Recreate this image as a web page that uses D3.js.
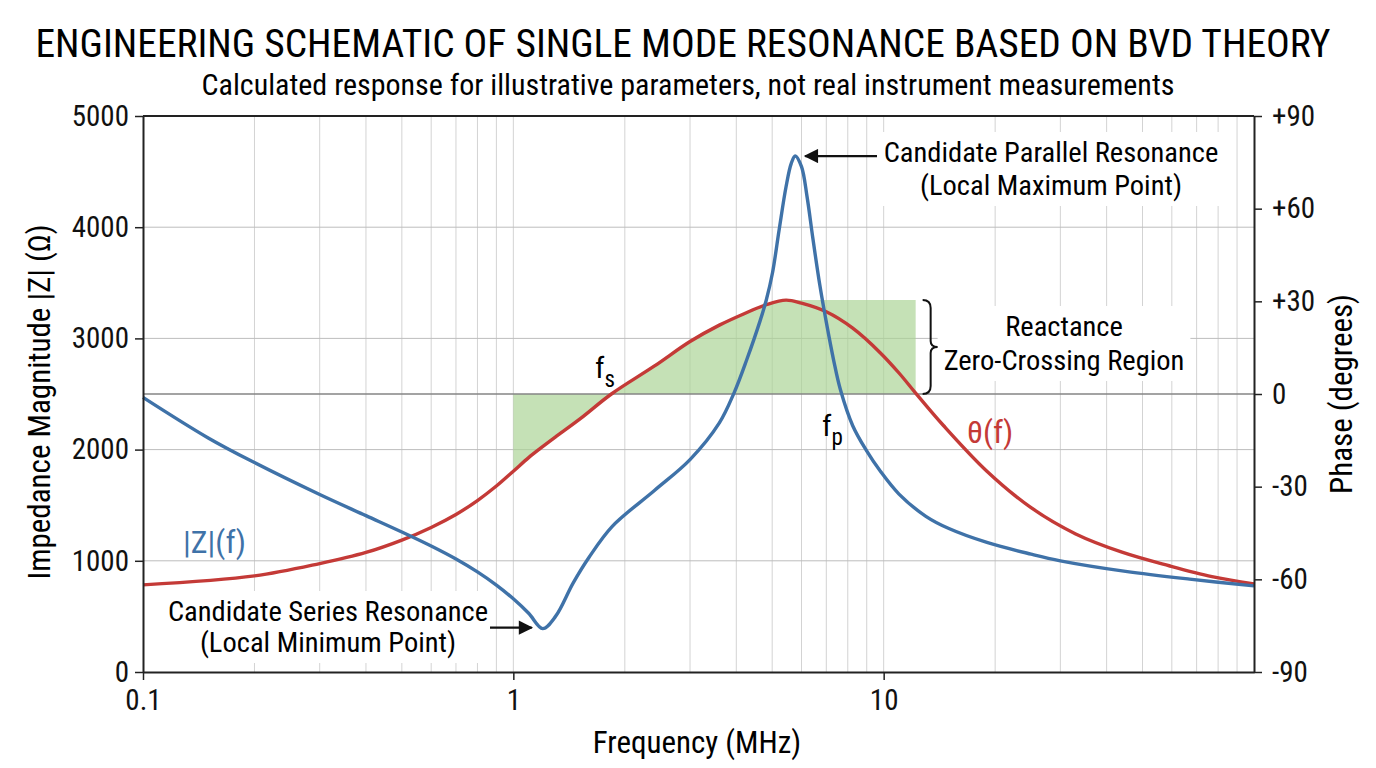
<!DOCTYPE html>
<html>
<head>
<meta charset="utf-8">
<script src="https://cdn.jsdelivr.net/npm/d3@7"></script>
<style>
  body { margin: 0; background: #fff; }
  text { font-family: "Liberation Sans Narrow", "Roboto Condensed", "DejaVu Sans Condensed", sans-serif; }
</style>
</head>
<body>
<div id="chart"></div>
<script>
// |Z|(f)
const zFreq = [0.1, 0.15, 0.2, 0.3, 0.4, 0.5, 0.6, 0.7, 0.8, 0.9, 1.0, 1.1, 1.2, 1.3, 1.45, 1.6, 1.85, 2.4, 3.0, 3.6, 3.94, 4.27, 4.64, 4.82, 5.01, 5.22, 5.45, 5.63, 5.77, 6.0, 6.21, 6.44, 6.72, 7.0, 7.33, 7.64, 8.25, 8.97, 9.8, 11, 13, 15, 19, 25, 30, 45, 67, 100];
const zMag  = [2470, 2105, 1883, 1596, 1406, 1259, 1133, 1016, 900, 781, 658, 528, 390, 500, 800, 1030, 1310, 1630, 1910, 2240, 2506, 2810, 3160, 3345, 3590, 3975, 4364, 4574, 4640, 4544, 4275, 3898, 3484, 3146, 2801, 2540, 2215, 1995, 1805, 1600, 1400, 1290, 1165, 1060, 1000, 905, 835, 775];

// theta(f) in degrees
const phFreq = [0.1, 0.2, 0.3, 0.4, 0.5, 0.6, 0.7, 0.8, 0.9, 1.0, 1.1, 1.18, 1.3, 1.52, 1.84, 2.4, 3.0, 3.6, 4.2, 4.82, 5.45, 6.0, 7.0, 8.25, 9.8, 11, 12.2, 14.5, 19, 25, 33, 44, 59, 77, 100];
const phDeg  = [-61.8, -58.9, -54.9, -51.3, -47.3, -43.2, -39.0, -34.5, -29.8, -25.0, -20.6, -17.7, -13.9, -7.9, 0, 9, 17, 22.3, 26, 28.9, 30.4, 29.4, 26.6, 21.3, 13.3, 6.8, 0.3, -10.2, -25, -36.8, -45.3, -51.2, -55.6, -59.1, -61.5];

const xTicks = [0.1, 1, 10];
const zTicks = [0, 1000, 2000, 3000, 4000, 5000];
const phTicks = [-90, -60, -30, 0, 30, 60, 90];
const regionFreq = [1, 12.2];   // shaded zero-crossing band

const W = 1376, H = 768;
const margin = { top: 116, right: 122, bottom: 96, left: 143 };
const blue = '#3f72a8', red = '#c43a37';

const svg = d3.select('#chart').append('svg')
    .attr('width', W)
    .attr('height', H);

const x = d3.scaleLog().domain([0.1, 100]).range([margin.left, W - margin.right]);
const yZ = d3.scaleLinear().domain([0, 5000]).range([H - margin.bottom, margin.top]);
const yP = d3.scaleLinear().domain([-90, 90]).range([H - margin.bottom, margin.top]);
const smooth = d3.curveCatmullRom.alpha(0.5);

// titles
svg.append('text')
    .attr('x', 683).attr('y', 57)
    .attr('text-anchor', 'middle')
    .style('font-size', '39.5px')
    .text('ENGINEERING SCHEMATIC OF SINGLE MODE RESONANCE BASED ON BVD THEORY');
svg.append('text')
    .attr('x', 688).attr('y', 95)
    .attr('text-anchor', 'middle')
    .style('font-size', '30px')
    .text('Calculated response for illustrative parameters, not real instrument measurements');

// grid
const grid = svg.append('g');
const minor = [];
[0.1, 1, 10].forEach(d => { for (let k = 2; k <= 9; k++) minor.push(d * k); });
grid.selectAll('.vg')
    .data(minor.concat([1, 10]))
    .join('line')
    .attr('x1', d => x(d)).attr('x2', d => x(d))
    .attr('y1', margin.top).attr('y2', H - margin.bottom)
    .attr('stroke', '#d3d3d3').attr('stroke-width', 1);
grid.selectAll('.hg')
    .data(zTicks.slice(1, -1))
    .join('line')
    .attr('x1', margin.left).attr('x2', W - margin.right)
    .attr('y1', d => yZ(d)).attr('y2', d => yZ(d))
    .attr('stroke', '#bdbdbd').attr('stroke-width', 1);

// shaded band: under theta up to its peak, then flat at the peak
const peakIdx = d3.maxIndex(phDeg);
const bandData = phFreq.map((f, i) => ({ f, v: i <= peakIdx ? phDeg[i] : phDeg[peakIdx] }));
svg.append('clipPath').attr('id', 'band-clip')
    .append('rect')
    .attr('x', x(regionFreq[0])).attr('width', x(regionFreq[1]) - x(regionFreq[0]))
    .attr('y', margin.top).attr('height', H - margin.top - margin.bottom);
svg.append('path')
    .datum(bandData)
    .attr('clip-path', 'url(#band-clip)')
    .attr('fill', '#a9d393')
    .attr('fill-opacity', 0.68)
    .attr('d', d3.area()
        .x(d => x(d.f))
        .y0(yP(0))
        .y1(d => yP(d.v))
        .curve(smooth));

// phase zero line
svg.append('line')
    .attr('x1', margin.left).attr('x2', W - margin.right)
    .attr('y1', yP(0)).attr('y2', yP(0))
    .attr('stroke', '#858585').attr('stroke-width', 1.3);

// label boxes (white behind annotation text)
const boxes = svg.append('g');

// curves
svg.append('path')
    .datum(phFreq.map((f, i) => [f, phDeg[i]]))
    .attr('fill', 'none').attr('stroke', red).attr('stroke-width', 3.4)
    .attr('d', d3.line().x(d => x(d[0])).y(d => yP(d[1])).curve(smooth));
svg.append('path')
    .datum(zFreq.map((f, i) => [f, zMag[i]]))
    .attr('fill', 'none').attr('stroke', blue).attr('stroke-width', 3.4)
    .attr('d', d3.line().x(d => x(d[0])).y(d => yZ(d[1])).curve(smooth));

// frame + axes
svg.append('line')
    .attr('x1', margin.left).attr('x2', W - margin.right)
    .attr('y1', margin.top).attr('y2', margin.top)
    .attr('stroke', '#222').attr('stroke-width', 2);

const xAxis = svg.append('g')
    .attr('transform', `translate(0,${H - margin.bottom})`)
    .call(d3.axisBottom(x).tickValues(xTicks).tickFormat(d => String(d)).tickSize(8).tickSizeOuter(0));
const yAxisL = svg.append('g')
    .attr('transform', `translate(${margin.left},0)`)
    .call(d3.axisLeft(yZ).tickValues(zTicks).tickSize(8).tickSizeOuter(0).tickFormat(d => String(d)));
const yAxisR = svg.append('g')
    .attr('transform', `translate(${W - margin.right},0)`)
    .call(d3.axisRight(yP).tickValues(phTicks).tickSize(8).tickSizeOuter(0)
        .tickFormat(d => d > 0 ? '+' + d : String(d)));

[xAxis, yAxisL, yAxisR].forEach(g => {
    g.selectAll('.domain').attr('stroke', '#222').attr('stroke-width', 2);
    g.selectAll('.tick line').attr('stroke', '#222').attr('stroke-width', 1.5);
    g.selectAll('.tick text').style('font-size', '29px').attr('fill', '#111')
        .style('font-family', '"Liberation Sans Narrow", "Roboto Condensed", "DejaVu Sans Condensed", sans-serif');
});
xAxis.selectAll('.tick text').attr('y', 12).attr('dy', '0.9em');
yAxisL.selectAll('.tick text').attr('x', -14);
yAxisR.selectAll('.tick text').attr('x', 18);

// axis titles
svg.append('text')
    .attr('transform', `translate(50,${yZ(2500) + 8}) rotate(-90)`)
    .attr('text-anchor', 'middle')
    .style('font-size', '31px')
    .text('Impedance Magnitude |Z| (Ω)');
svg.append('text')
    .attr('transform', `translate(1352,${yP(0)}) rotate(-90)`)
    .attr('text-anchor', 'middle')
    .style('font-size', '31px')
    .text('Phase (degrees)');
svg.append('text')
    .attr('x', 697).attr('y', 753)
    .attr('text-anchor', 'middle')
    .style('font-size', '31px')
    .text('Frequency (MHz)');

// annotations
function note(lines, cx, y0, gap, size) {
    const g = svg.append('g');
    lines.forEach((s, i) => {
        g.append('text')
            .attr('x', cx).attr('y', y0 + i * gap)
            .attr('text-anchor', 'middle')
            .style('font-size', size)
            .text(s);
    });
    const b = g.node().getBBox();
    boxes.append('rect')
        .attr('x', b.x - 6).attr('y', b.y - 4)
        .attr('width', b.width + 12).attr('height', b.height + 8)
        .attr('fill', '#fff');
    return g;
}
note(['Candidate Parallel Resonance', '(Local Maximum Point)'], 1051, 162, 33, '28.5px');
note(['Reactance', 'Zero-Crossing Region'], 1064, 336, 34, '28.5px');
note(['Candidate Series Resonance', '(Local Minimum Point)'], 328, 621, 31, '28.5px');

const defs = svg.append('defs');
defs.append('marker')
    .attr('id', 'arrow')
    .attr('viewBox', '0 0 10 10')
    .attr('refX', 9).attr('refY', 5)
    .attr('markerWidth', 7).attr('markerHeight', 6.5)
    .attr('orient', 'auto')
    .append('path').attr('d', 'M0,0 L10,5 L0,10 z').attr('fill', '#111');

const peakZ = d3.maxIndex(zMag), minZ = d3.minIndex(zMag);
svg.append('line')
    .attr('x1', 877).attr('x2', x(zFreq[peakZ]) + 10)
    .attr('y1', yZ(zMag[peakZ])).attr('y2', yZ(zMag[peakZ]))
    .attr('stroke', '#111').attr('stroke-width', 2.2)
    .attr('marker-end', 'url(#arrow)');
svg.append('line')
    .attr('x1', 490).attr('x2', x(zFreq[minZ]) - 11)
    .attr('y1', yZ(zMag[minZ]) - 1).attr('y2', yZ(zMag[minZ]) - 1)
    .attr('stroke', '#111').attr('stroke-width', 2.2)
    .attr('marker-end', 'url(#arrow)');

// brace next to the band
const bx = x(regionFreq[1]) + 7, bt = yP(phDeg[peakIdx]), bb = yP(0);
const bh = (bb - bt) / 2;
svg.append('path')
    .attr('fill', 'none').attr('stroke', '#111').attr('stroke-width', 2)
    .attr('d', `M${bx},${bt} q8,0 8,8 v${bh - 14} q0,6 7,6 q-7,0 -7,6 v${bh - 14} q0,8 -8,8`);

// curve labels
function subLabel(main, sub, px, py) {
    const t = svg.append('text').attr('x', px).attr('y', py).style('font-size', '30px');
    t.append('tspan').text(main);
    t.append('tspan').attr('dy', 9).style('font-size', '23px').text(sub);
}
subLabel('f', 's', 595, 378);
subLabel('f', 'p', 822, 436);

svg.append('text')
    .attr('x', 967).attr('y', 443)
    .attr('fill', red)
    .style('font-size', '32px')
    .text('θ(f)');
svg.append('text')
    .attr('x', 183).attr('y', 553)
    .attr('fill', blue)
    .style('font-size', '32px')
    .text('|Z|(f)');
</script>
</body>
</html>
